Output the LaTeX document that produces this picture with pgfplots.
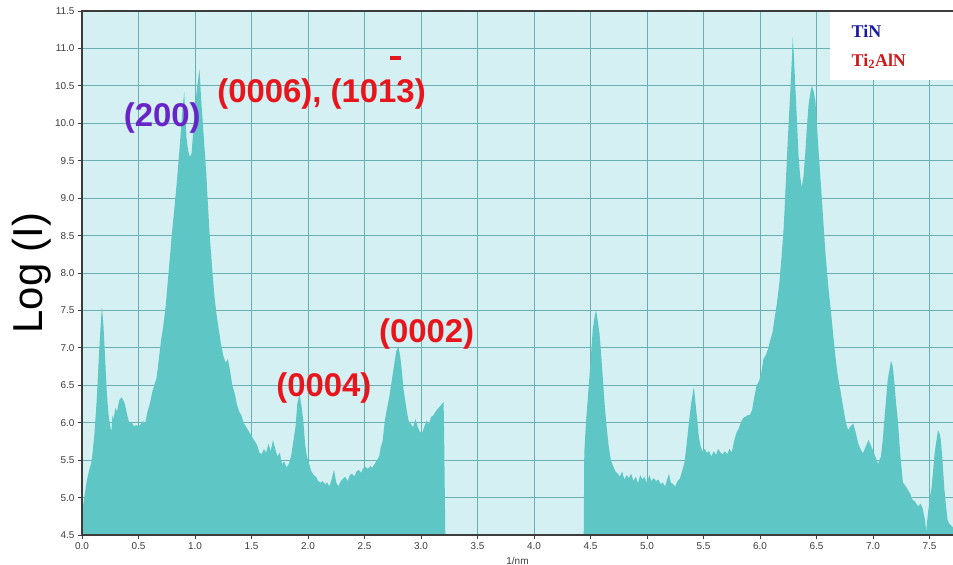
\documentclass[border=0pt]{standalone}
\usepackage{pgfplots}
\pgfplotsset{compat=1.18}
\usepackage{fontspec}
\setmainfont{Liberation Sans}
\newfontfamily\legfont{Liberation Serif}

\definecolor{bgcyan}{RGB}{212,240,242}
\definecolor{gridteal}{RGB}{104,176,178}
\definecolor{peakfill}{RGB}{94,198,196}
\definecolor{lblred}{RGB}{232,22,28}
\definecolor{lblpurple}{RGB}{104,36,200}
\definecolor{legblue}{RGB}{26,26,160}
\definecolor{legred}{RGB}{204,26,26}
\definecolor{axisgray}{RGB}{60,60,60}

% profile, left part (0 to 3.2 1/nm)
\pgfplotstableread{
x y
0.00 4.55
0.005 4.85
0.02 5.00
0.04 5.20
0.06 5.35
0.08 5.45
0.09 5.55
0.11 5.85
0.13 6.30
0.15 6.90
0.165 7.30
0.176 7.55
0.19 7.30
0.205 6.85
0.22 6.40
0.235 6.10
0.25 5.95
0.26 5.88
0.27 6.10
0.28 6.05
0.295 6.20
0.31 6.15
0.33 6.30
0.35 6.34
0.365 6.30
0.38 6.25
0.40 6.10
0.42 5.99
0.44 6.00
0.46 5.95
0.48 5.97
0.50 5.95
0.52 5.98
0.54 6.02
0.56 6.00
0.58 6.15
0.60 6.25
0.62 6.40
0.64 6.50
0.66 6.60
0.68 6.85
0.70 7.10
0.72 7.30
0.74 7.55
0.76 7.90
0.78 8.25
0.80 8.60
0.82 8.90
0.84 9.23
0.86 9.60
0.875 9.90
0.89 10.20
0.905 10.42
0.915 10.05
0.925 9.80
0.94 9.63
0.955 9.55
0.97 9.60
0.985 9.90
1.00 10.21
1.02 10.50
1.04 10.72
1.055 10.30
1.07 9.99
1.085 9.65
1.10 9.32
1.115 8.90
1.13 8.50
1.15 8.10
1.17 7.72
1.19 7.45
1.21 7.25
1.23 7.05
1.25 6.90
1.27 6.80
1.29 6.85
1.31 6.70
1.33 6.50
1.35 6.40
1.37 6.25
1.39 6.15
1.41 6.10
1.43 6.00
1.45 5.95
1.47 5.90
1.49 5.85
1.51 5.80
1.53 5.75
1.55 5.70
1.57 5.60
1.59 5.58
1.61 5.65
1.63 5.60
1.65 5.72
1.67 5.62
1.69 5.77
1.71 5.65
1.73 5.55
1.75 5.60
1.77 5.45
1.79 5.48
1.81 5.40
1.83 5.45
1.85 5.55
1.87 5.75
1.89 5.95
1.905 6.25
1.925 6.39
1.945 6.20
1.96 6.00
1.975 5.70
1.99 5.55
2.01 5.45
2.03 5.35
2.05 5.30
2.07 5.28
2.09 5.22
2.11 5.20
2.13 5.22
2.15 5.18
2.17 5.20
2.19 5.15
2.21 5.25
2.23 5.37
2.25 5.20
2.27 5.15
2.29 5.22
2.31 5.25
2.33 5.28
2.35 5.22
2.37 5.30
2.39 5.32
2.41 5.28
2.43 5.35
2.45 5.37
2.47 5.33
2.49 5.40
2.51 5.41
2.53 5.38
2.55 5.42
2.57 5.40
2.59 5.45
2.61 5.50
2.63 5.55
2.645 5.68
2.66 5.75
2.68 6.03
2.70 6.20
2.72 6.35
2.74 6.55
2.76 6.75
2.78 6.95
2.80 7.02
2.815 6.90
2.83 6.70
2.845 6.45
2.86 6.30
2.875 6.15
2.89 6.03
2.91 5.98
2.93 5.94
2.95 6.05
2.97 5.95
2.99 5.88
3.01 5.86
3.03 5.95
3.05 6.03
3.07 5.98
3.09 6.08
3.11 6.10
3.13 6.15
3.15 6.19
3.17 6.22
3.19 6.26
3.20 6.28
3.205 5.80
3.215 4.50
}\leftpart

% profile, right part (4.4 to 7.7 1/nm)
\pgfplotstableread{
x y
4.44 4.50
4.445 5.60
4.46 6.00
4.48 6.40
4.50 6.80
4.52 7.25
4.54 7.45
4.55 7.50
4.565 7.35
4.58 7.19
4.595 6.90
4.61 6.57
4.625 6.25
4.64 5.99
4.66 5.70
4.68 5.50
4.70 5.42
4.72 5.35
4.74 5.32
4.76 5.28
4.78 5.35
4.80 5.24
4.82 5.30
4.84 5.26
4.86 5.32
4.88 5.22
4.90 5.28
4.92 5.19
4.94 5.30
4.96 5.24
4.975 5.28
5.00 5.20
5.02 5.30
5.04 5.22
5.06 5.26
5.08 5.22
5.10 5.24
5.12 5.18
5.14 5.20
5.16 5.15
5.18 5.25
5.195 5.32
5.21 5.20
5.23 5.18
5.25 5.15
5.27 5.22
5.29 5.25
5.31 5.35
5.33 5.46
5.35 5.70
5.37 5.99
5.39 6.25
5.415 6.48
5.43 6.25
5.445 6.03
5.46 5.80
5.475 5.68
5.49 5.62
5.51 5.65
5.53 5.60
5.55 5.62
5.57 5.55
5.59 5.62
5.61 5.57
5.63 5.65
5.65 5.60
5.67 5.58
5.69 5.62
5.71 5.58
5.73 5.65
5.75 5.60
5.77 5.75
5.79 5.86
5.81 5.92
5.83 6.00
5.85 6.06
5.87 6.08
5.89 6.10
5.91 6.10
5.93 6.17
5.95 6.35
5.97 6.50
5.99 6.55
6.01 6.65
6.03 6.85
6.05 6.90
6.07 6.98
6.09 7.10
6.11 7.20
6.13 7.40
6.15 7.60
6.17 7.85
6.19 8.20
6.21 8.61
6.225 9.10
6.24 9.59
6.255 10.05
6.27 10.48
6.28 10.80
6.29 11.14
6.30 10.90
6.31 10.57
6.325 10.10
6.34 9.59
6.355 9.30
6.37 9.14
6.385 9.30
6.40 9.59
6.415 9.95
6.43 10.25
6.45 10.45
6.46 10.50
6.475 10.42
6.49 10.30
6.505 9.95
6.52 9.59
6.54 9.15
6.56 8.70
6.58 8.25
6.605 7.81
6.63 7.45
6.65 7.14
6.67 6.85
6.69 6.61
6.715 6.40
6.74 6.17
6.76 6.00
6.78 5.90
6.80 5.95
6.825 5.99
6.85 5.85
6.87 5.72
6.89 5.65
6.91 5.59
6.935 5.68
6.96 5.77
6.98 5.70
7.00 5.63
7.02 5.55
7.045 5.45
7.07 5.55
7.085 5.75
7.10 6.03
7.115 6.30
7.13 6.57
7.16 6.83
7.175 6.75
7.19 6.52
7.205 6.25
7.22 6.03
7.24 5.60
7.265 5.20
7.29 5.15
7.31 5.10
7.33 5.05
7.35 4.97
7.37 4.95
7.40 4.88
7.42 4.92
7.44 4.85
7.46 4.70
7.47 4.55
7.48 4.70
7.50 4.97
7.52 5.15
7.545 5.59
7.56 5.75
7.575 5.90
7.59 5.85
7.60 5.77
7.615 5.50
7.63 5.14
7.645 4.90
7.66 4.70
7.675 4.65
7.71 4.60
}\rightpart

\begin{document}
\begin{tikzpicture}
\begin{axis}[
    scale only axis,
    width=871bp, height=524bp,
    xmin=0, xmax=7.708,
    ymin=4.5, ymax=11.5,
    clip mode=individual,
    xtick={0,0.5,...,7.5},
    ytick={4.5,5,...,11.5},
    grid=major,
    grid style={gridteal, line width=0.8bp},
    axis background/.style={fill=bgcyan},
    axis line style={draw=none},
    xtick pos=bottom, ytick pos=left,
    tick align=outside,
    major tick length=4bp,
    tick style={axisgray, line width=0.8bp},
    ticklabel style={font=\fontsize{10}{10}\selectfont, text=axisgray},
    /pgf/number format/assume math mode=true,
    /pgf/number format/.cd, fixed, fixed zerofill, precision=1, /pgfplots/.cd,
    xlabel={1/nm},
    xlabel style={font=\fontsize{10}{10}\selectfont, text=axisgray,
        at={(rel axis cs:0.5,0)}, anchor=north, yshift=-19bp},
]
\addplot[fill=peakfill, draw=none] table[x=x, y=y] {\leftpart} \closedcycle;
\addplot[fill=peakfill, draw=none] table[x=x, y=y] {\rightpart} \closedcycle;

% axis lines: left, bottom and top only
\draw[axisgray, line width=1.2bp] (rel axis cs:1,1) -- (rel axis cs:0,1) -- (rel axis cs:0,0) -- (rel axis cs:1,0);

% legend box
\fill[white] (axis cs:6.62,10.58) rectangle (axis cs:7.708,11.48);
\node[anchor=base west, font=\legfont\bfseries\fontsize{18}{18}\selectfont, text=legblue]
    at (axis cs:6.78,11.14) {TiN};
\node[anchor=base west, font=\legfont\bfseries\fontsize{18}{18}\selectfont, text=legred]
    at (axis cs:6.78,10.76) {Ti\textsubscript{2}AlN};

% peak labels
\node[font=\bfseries\fontsize{33}{33}\selectfont, text=lblpurple] at (axis cs:0.71,10.07) {(200)};
\node[font=\bfseries\fontsize{33}{33}\selectfont, text=lblred] at (axis cs:2.12,10.39)
    {(0006), (10\rlap{\smash{\hspace{0.36em}\rule[1.3em]{0.32em}{0.12em}}}13)};
\node[font=\bfseries\fontsize{33}{33}\selectfont, text=lblred] at (axis cs:2.14,6.46) {(0004)};
\node[font=\bfseries\fontsize{33}{33}\selectfont, text=lblred] at (axis cs:3.05,7.19) {(0002)};

% y label
\node[xshift=-50bp, rotate=90, font=\fontsize{42}{42}\selectfont, text=black]
    at (rel axis cs:0,0.5) {Log (I)};
\end{axis}
\pgfresetboundingbox
\path[use as bounding box] ([xshift=-82bp,yshift=-30bp]current axis.south west)
    rectangle ([yshift=11bp]current axis.north east);
\end{tikzpicture}
\end{document}
